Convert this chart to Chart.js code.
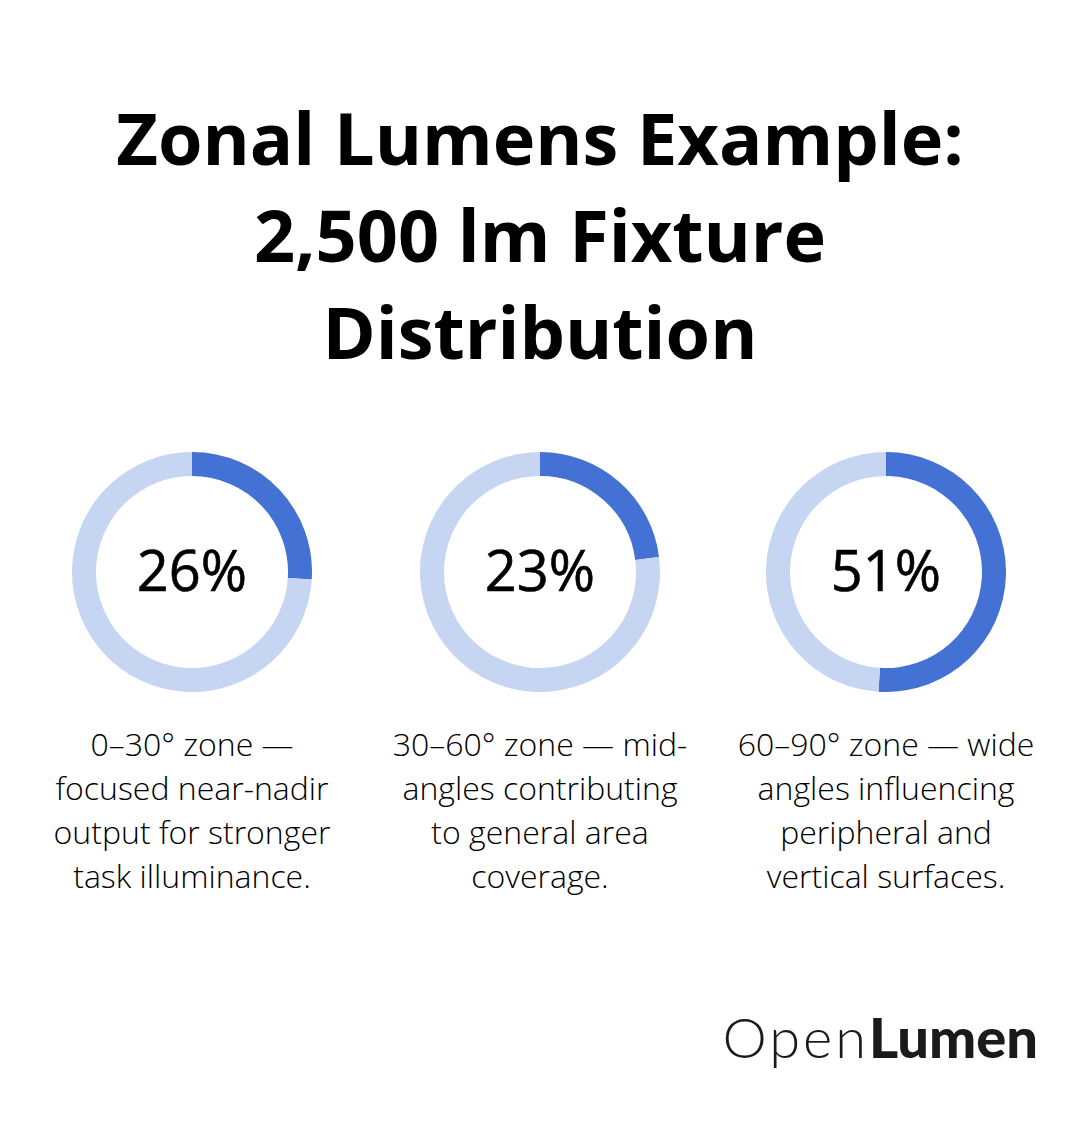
<!DOCTYPE html>
<html>
<head>
<meta charset="utf-8">
<script src="https://cdn.jsdelivr.net/npm/chart.js@4.4.1/dist/chart.umd.min.js"></script>
<style>
  html, body { margin: 0; padding: 0; background: #ffffff; }
  body { width: 1080px; height: 1124px; position: relative; overflow: hidden; font-family: "Open Sans", sans-serif; }
  #title { position: absolute; left: 0; width: 1080px; top: 89px; text-align: center; font-weight: 700; font-size: 72px; line-height: 97px; color: #000; }
  .col { position: absolute; top: 452px; width: 360px; }
  .ring { position: absolute; left: 60px; top: 0; width: 240px; height: 240px; }
  .pct { position: absolute; left: 0; width: 360px; top: -3px; height: 240px; line-height: 240px; text-align: center; font-size: 56px; font-weight: 500; color: #000; -webkit-text-stroke: 0.6px #000; }
  .desc { position: absolute; left: 0; width: 360px; top: 270px; text-align: center; font-size: 32px; font-weight: 300; line-height: 44px; color: #000; }
  #logo { position: absolute; right: 42px; top: 1003px; font-family: "Lato", sans-serif; font-size: 56px; color: #1a1a1a; }
  #logo .a { font-weight: 300; letter-spacing: 3px; }
  #logo .b { font-weight: 900; letter-spacing: 0px; }
</style>
</head>
<body>
<div id="title">Zonal Lumens Example:<br>2,500 lm Fixture<br>Distribution</div>
<div id="cols"></div>
<div id="logo"><span class="a">Open</span><span class="b">Lumen</span></div>
<script>
const zones = ["0–30°", "30–60°", "60–90°"];
const shares = [26, 23, 51];
const descLines = [
  ["0–30° zone —", "focused near-nadir", "output for stronger", "task illuminance."],
  ["30–60° zone — mid-", "angles contributing", "to general area", "coverage."],
  ["60–90° zone — wide", "angles influencing", "peripheral and", "vertical surfaces."]
];
const colCenters = [192, 540, 886];
const mainColor = "#4472D4";
const restColor = "#C5D5F2";

const cols = document.getElementById("cols");
shares.forEach((v, i) => {
  const col = document.createElement("div");
  col.className = "col";
  col.style.left = (colCenters[i] - 180) + "px";
  const wrap = document.createElement("div");
  wrap.className = "ring";
  const cv = document.createElement("canvas");
  cv.width = 240; cv.height = 240;
  wrap.appendChild(cv);
  col.appendChild(wrap);
  const pct = document.createElement("div");
  pct.className = "pct";
  pct.textContent = v + "%";
  col.appendChild(pct);
  const d = document.createElement("div");
  d.className = "desc";
  d.innerHTML = descLines[i].join("<br>");
  col.appendChild(d);
  cols.appendChild(col);

  new Chart(cv, {
    type: "doughnut",
    data: {
      labels: [zones[i], "Other"],
      datasets: [{
        data: [v, 100 - v],
        backgroundColor: [mainColor, restColor],
        borderWidth: 0,
        hoverOffset: 0
      }]
    },
    options: {
      responsive: false,
      animation: false,
      cutout: "80%",
      layout: { padding: 0 },
      plugins: { legend: { display: false }, tooltip: { enabled: false } },
      events: []
    }
  });
});
</script>
</body>
</html>
